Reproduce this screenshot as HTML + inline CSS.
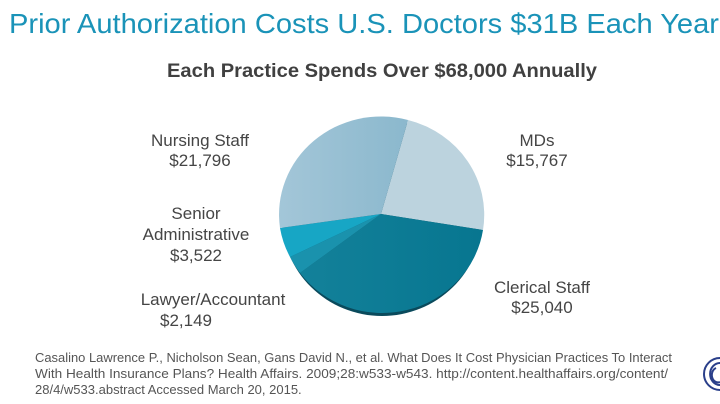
<!DOCTYPE html>
<html><head><meta charset="utf-8"><style>
html,body{margin:0;padding:0;background:#fff;width:720px;height:404px;overflow:hidden}
svg{display:block}
text{font-family:"Liberation Sans",sans-serif}
</style></head><body>
<svg width="720" height="404" viewBox="0 0 720 404">
<defs>
<linearGradient id="gn" x1="0" x2="1" y1="0" y2="0"><stop offset="0" stop-color="#a3c6d8"/><stop offset="1" stop-color="#8bb8cd"/></linearGradient>
<linearGradient id="gc" x1="0" x2="1" y1="0" y2="0"><stop offset="0" stop-color="#13819a"/><stop offset="1" stop-color="#077690"/></linearGradient>
</defs>
<text x="9" y="33" font-size="28" fill="#1a93b8" textLength="710" lengthAdjust="spacingAndGlyphs">Prior Authorization Costs U.S. Doctors $31B Each Year</text>
<text x="167" y="77" font-size="19" font-weight="bold" fill="#404040" textLength="430" lengthAdjust="spacingAndGlyphs">Each Practice Spends Over $68,000 Annually</text>
<ellipse cx="382" cy="218" rx="100" ry="98" fill="#0a4a5c"/>
<g>
<path d="M381,214 L408,120 A102,98 0 0 1 483,230 Z" fill="#bcd3de"/>
<path d="M381,214 L483,230 A102,98 0 0 1 300,273 Z" fill="url(#gc)"/>
<path d="M381,214 L300,273 A102,98 0 0 1 290,257 Z" fill="#1a92ad"/>
<path d="M381,214 L290,257 A102,98 0 0 1 280,228 Z" fill="#17a6c5"/>
<path d="M381,214 L280,228 A102,98 0 0 1 408,120 Z" fill="url(#gn)"/>
</g>
<g font-size="17" fill="#454545" text-anchor="middle">
<text x="200" y="146">Nursing Staff</text><text x="200" y="166">$21,796</text>
<text x="537" y="146">MDs</text><text x="537" y="166">$15,767</text>
<text x="196" y="219">Senior</text><text x="196" y="240">Administrative</text><text x="196" y="261">$3,522</text>
<text x="213" y="305">Lawyer/Accountant</text><text x="186" y="326">$2,149</text>
<text x="542" y="293">Clerical Staff</text><text x="542" y="313">$25,040</text>
</g>
<g font-size="13" fill="#555">
<text x="35" y="362" textLength="637" lengthAdjust="spacingAndGlyphs">Casalino Lawrence P., Nicholson Sean, Gans David N., et al. What Does It Cost Physician Practices To Interact</text>
<text x="35" y="378" textLength="633" lengthAdjust="spacingAndGlyphs">With Health Insurance Plans? Health Affairs. 2009;28:w533-w543. http://content.healthaffairs.org/content/</text>
<text x="35" y="394">28/4/w533.abstract Accessed March 20, 2015.</text>
</g>
<g fill="none" stroke="#2a3f8a" stroke-width="2">
<path d="M720,358 A14,14 0 0 0 720,390"/>
<path d="M720,363 A9,10 0 0 0 720,385"/>
<path d="M716,368 A5,6 0 0 0 720,382"/>
</g>
</svg>
</body></html>
